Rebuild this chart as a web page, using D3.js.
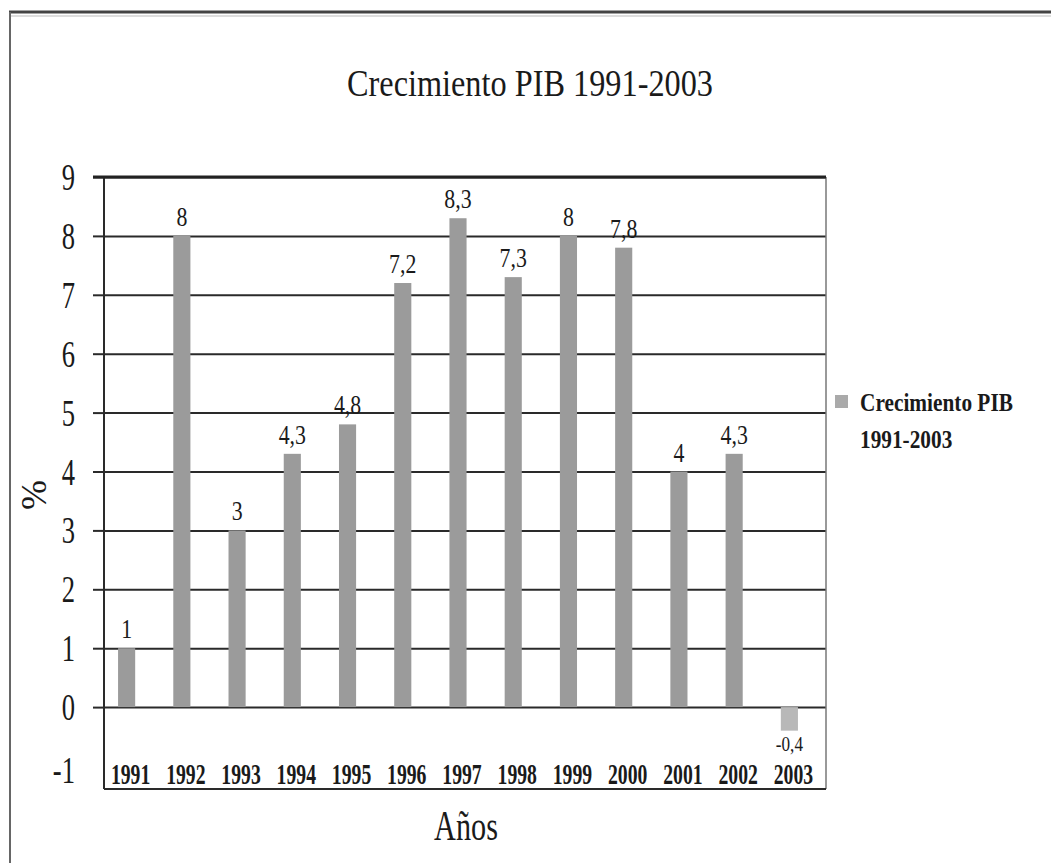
<!DOCTYPE html>
<html lang="es">
<head>
<meta charset="UTF-8">
<title>Crecimiento PIB 1991-2003</title>
<script src="https://d3js.org/d3.v7.min.js"></script>
<style>
  body { margin: 0; background: #fff; }
  svg text { font-family: 'Liberation Serif', 'DejaVu Serif', serif; fill: #1a1a1a; }
</style>
</head>
<body>
<div id="chart"></div>
<script>
const years = ["1991","1992","1993","1994","1995","1996","1997","1998","1999","2000","2001","2002","2003"];
const growth = [1, 8, 3, 4.3, 4.8, 7.2, 8.3, 7.3, 8, 7.8, 4, 4.3, -0.4];
const yTicks = [-1, 0, 1, 2, 3, 4, 5, 6, 7, 8, 9];

const W = 1051, H = 863;
const plot = { left: 104, right: 826, top: 177, bottom: 789 };

// the scanned type is a narrow Times, so squeeze the text horizontally
const squeeze = 0.78;
const place = (px, py, sx = squeeze) => `translate(${px},${py}) scale(${sx},1)`;

const svg = d3.select("#chart").append("svg")
  .attr("width", W).attr("height", H);

// outer frame of the page
svg.append("line").attr("x1", 9).attr("x2", W).attr("y1", 12).attr("y2", 12)
  .attr("stroke", "#444").attr("stroke-width", 3);
svg.append("line").attr("x1", 9).attr("x2", W).attr("y1", 16).attr("y2", 16)
  .attr("stroke", "#bbb").attr("stroke-width", 1);
svg.append("line").attr("x1", 10).attr("x2", 10).attr("y1", 12).attr("y2", H)
  .attr("stroke", "#666").attr("stroke-width", 2);

svg.append("text")
  .attr("x", 530).attr("y", 96)
  .attr("text-anchor", "middle")
  .attr("font-size", 38)
  .attr("textLength", 366)
  .attr("lengthAdjust", "spacingAndGlyphs")
  .text("Crecimiento PIB 1991-2003");

const x = d3.scaleBand()
  .domain(years)
  .range([99, 817])
  .paddingInner(0.69)
  .paddingOuter(0.345);

const y = d3.scaleLinear()
  .domain([-1, 9])
  .range([766, plot.top]);

// gridlines
svg.append("g")
  .attr("transform", `translate(${plot.left},0)`)
  .call(d3.axisLeft(y).tickValues(yTicks.filter(d => d >= 0))
    .tickSize(-(plot.right - plot.left)).tickFormat(""))
  .call(g => g.select(".domain").remove())
  .call(g => g.selectAll(".tick line").attr("stroke", "#2a2a2a").attr("stroke-width", 2));

// short tick marks on the left of the axis
svg.append("g")
  .attr("transform", `translate(${plot.left},0)`)
  .call(d3.axisLeft(y).tickValues(yTicks.filter(d => d >= 0)).tickSize(11).tickFormat(""))
  .call(g => g.select(".domain").remove())
  .call(g => g.selectAll(".tick line").attr("stroke", "#2a2a2a").attr("stroke-width", 2));

svg.append("g").selectAll("text")
  .data(yTicks)
  .join("text")
  .attr("transform", d => place(75, y(d) + (d === -1 ? 17 : 13), 0.7))
  .attr("text-anchor", "end")
  .attr("font-size", 38)
  .text(d => d);

// bars
svg.append("g").selectAll("rect")
  .data(growth)
  .join("rect")
  .attr("x", (d, i) => x(years[i]))
  .attr("width", x.bandwidth())
  .attr("y", d => y(Math.max(0, d)))
  .attr("height", d => Math.abs(y(d) - y(0)))
  .attr("fill", d => d < 0 ? "#b8b8b8" : "#9b9b9b");

// value labels
svg.append("g").selectAll("text")
  .data(growth)
  .join("text")
  .attr("transform", (d, i) => place(x(years[i]) + x.bandwidth() / 2,
    d < 0 ? y(d) + 20 : y(d) - 10))
  .attr("text-anchor", "middle")
  .attr("font-size", d => d < 0 ? 22 : 28)
  .text(d => String(d).replace(".", ","));

// frame
svg.append("line").attr("x1", plot.left).attr("x2", plot.left)
  .attr("y1", plot.top).attr("y2", plot.bottom)
  .attr("stroke", "#2a2a2a").attr("stroke-width", 2);
svg.append("line").attr("x1", plot.right).attr("x2", plot.right)
  .attr("y1", plot.top).attr("y2", plot.bottom)
  .attr("stroke", "#777").attr("stroke-width", 1.5);
svg.append("line").attr("x1", plot.left).attr("x2", plot.right)
  .attr("y1", plot.bottom).attr("y2", plot.bottom)
  .attr("stroke", "#2a2a2a").attr("stroke-width", 2);
svg.append("line").attr("x1", 93).attr("x2", plot.right)
  .attr("y1", plot.top).attr("y2", plot.top)
  .attr("stroke", "#222").attr("stroke-width", 3);

// category labels
svg.append("g").selectAll("text")
  .data(years)
  .join("text")
  .attr("transform", d => place(x(d) + x.bandwidth() / 2 + 4, 784, 0.68))
  .attr("text-anchor", "middle")
  .attr("font-size", 29)
  .attr("font-weight", "bold")
  .text(d => d);

// axis titles
svg.append("text")
  .attr("transform", "translate(46,495) rotate(-90)")
  .attr("text-anchor", "middle")
  .attr("font-size", 36)
  .text("%");

svg.append("text")
  .attr("transform", place(466, 840, 0.72))
  .attr("text-anchor", "middle")
  .attr("font-size", 42)
  .text("Años");

// legend
svg.append("rect").attr("x", 835).attr("y", 395).attr("width", 13).attr("height", 13)
  .attr("fill", "#aaa");
svg.append("text").attr("transform", place(860, 411, 0.82))
  .attr("font-size", 26).attr("font-weight", "bold")
  .text("Crecimiento PIB");
svg.append("text").attr("transform", place(860, 448, 0.82))
  .attr("font-size", 26).attr("font-weight", "bold")
  .text("1991-2003");
</script>
</body>
</html>
